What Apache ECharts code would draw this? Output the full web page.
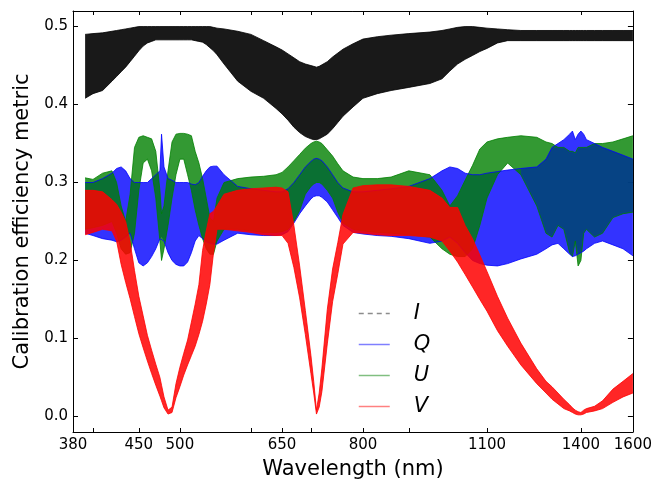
<!DOCTYPE html>
<html><head><meta charset="utf-8">
<script src="https://cdn.jsdelivr.net/npm/echarts@6/dist/echarts.min.js"></script>
<style>html,body{margin:0;padding:0;background:#fff}#c{width:655px;height:485px}</style>
</head><body><div id="c"></div>
<script>
const wavelength = [392,400,410,420,425,430,435,440,445,450,455,460,465,470,475,477,480,485,490,495,500,505,510,515,520,525,530,535,540,545,550,560,580,600,620,640,650,660,670,680,690,700,705,710,715,720,730,740,750,760,780,800,830,860,900,950,980,1000,1020,1040,1060,1080,1100,1130,1160,1200,1250,1280,1300,1320,1340,1360,1370,1380,1390,1400,1410,1420,1450,1480,1520,1560,1600];

const I_lo = [.408,.414,.418,.430,.436,.442,.448,.455,.462,.469,
 .475,.479,.481,.483,.483,.483,.483,.483,.483,.483,
 .483,.483,.483,.483,.482,.481,.480,.477,.473,.469,
 .464,.452,.430,.417,.408,.395,.388,.380,.371,.364,
 .359,.356,.355,.355,.356,.358,.362,.369,.377,.385,
 .397,.408,.414,.418,.422,.427,.433,.443,.452,.458,
 .463,.468,.472,.479,.482,.482,.482,.482,.482,.482,
 .482,.482,.482,.482,.482,.482,.482,.482,.482,.482,
 .482,.482,.482];
const I_hi = [.490,.491,.492,.494,.495,.496,.497,.498,.499,.500,
 .500,.500,.500,.500,.500,.500,.500,.500,.500,.500,
 .500,.500,.500,.500,.500,.500,.500,.500,.500,.499,
 .498,.497,.494,.490,.482,.474,.470,.465,.460,.455,
 .452,.450,.449,.448,.449,.451,.455,.461,.466,.471,
 .478,.484,.487,.489,.491,.493,.495,.497,.499,.500,
 .500,.499,.498,.497,.496,.495,.495,.495,.495,.495,
 .495,.495,.495,.495,.495,.495,.495,.495,.495,.495,
 .495,.495,.495];

const Q_lo = [.235,.232,.228,.226,.224,.226,.230,.235,.215,.197,
 .193,.197,.205,.215,.228,.230,.225,.210,.200,.195,
 .193,.193,.198,.210,.225,.232,.228,.224,.222,.221,
 .221,.226,.235,.233,.232,.232,.233,.237,.248,.260,
 .270,.279,.282,.283,.283,.281,.275,.265,.255,.245,
 .236,.234,.232,.231,.228,.222,.225,.230,.222,.210,
 .200,.196,.194,.193,.196,.202,.208,.215,.220,.222,
 .215,.208,.205,.206,.208,.210,.212,.215,.222,.225,
 .220,.215,.206];
const Q_hi = [.300,.300,.305,.312,.318,.320,.315,.305,.300,.300,
 .300,.300,.305,.310,.315,.362,.320,.305,.303,.300,
 .300,.300,.300,.298,.297,.300,.308,.315,.320,.321,
 .321,.310,.295,.292,.290,.288,.288,.292,.300,.310,
 .320,.327,.330,.331,.330,.328,.320,.310,.300,.293,
 .288,.288,.290,.292,.295,.305,.315,.320,.318,.312,
 .310,.310,.312,.314,.316,.318,.320,.330,.345,.350,
 .355,.362,.366,.355,.362,.366,.362,.355,.350,.345,
 .340,.335,.330];

const U_lo = [.240,.242,.245,.250,.235,.215,.208,.210,.235,.290,
 .325,.330,.315,.280,.225,.200,.215,.245,.280,.310,
 .330,.330,.310,.290,.265,.245,.228,.215,.208,.208,
 .225,.240,.240,.238,.236,.236,.237,.240,.250,.264,
 .285,.295,.298,.300,.300,.298,.290,.280,.262,.248,
 .240,.238,.236,.235,.233,.230,.215,.208,.205,.205,
 .215,.245,.280,.310,.325,.310,.270,.235,.230,.245,
 .240,.210,.205,.225,.193,.200,.235,.240,.230,.235,
 .255,.260,.262];
const U_hi = [.306,.304,.312,.315,.300,.270,.250,.285,.345,.358,
 .360,.358,.356,.340,.290,.260,.270,.315,.352,.362,
 .363,.363,.362,.360,.340,.325,.305,.280,.255,.250,
 .280,.300,.305,.307,.308,.310,.313,.320,.328,.336,
 .344,.350,.352,.353,.352,.350,.342,.334,.324,.315,
 .307,.305,.305,.307,.315,.310,.290,.270,.283,.303,
 .322,.343,.352,.356,.358,.360,.358,.352,.350,.345,
 .345,.340,.340,.338,.345,.345,.345,.345,.350,.350,
 .352,.356,.360];

const V_lo = [.233,.236,.240,.238,.225,.195,.172,.151,.128,.106,
 .088,.071,.055,.040,.026,.020,.011,.003,.005,.024,
 .038,.053,.066,.078,.090,.105,.122,.144,.169,.209,
 .240,.240,.238,.236,.233,.232,.232,.222,.191,.152,
 .105,.055,.030,.003,.012,.032,.093,.147,.183,.221,
 .236,.235,.233,.232,.232,.230,.225,.212,.198,.182,
 .166,.150,.135,.110,.090,.066,.042,.030,.022,.016,
 .010,.007,.005,.003,.002,.002,.003,.005,.007,.010,
 .018,.025,.030];
const V_hi = [.290,.290,.288,.278,.272,.262,.250,.224,.187,.154,
 .129,.104,.085,.067,.050,.040,.025,.008,.012,.042,
 .063,.081,.098,.121,.144,.169,.213,.238,.260,.263,
 .270,.285,.290,.292,.293,.294,.293,.288,.245,.193,
 .136,.078,.045,.008,.030,.062,.137,.189,.223,.259,
 .293,.296,.297,.297,.295,.290,.280,.268,.268,.245,
 .228,.207,.186,.154,.126,.094,.061,.045,.038,.030,
 .022,.015,.011,.008,.006,.005,.008,.010,.013,.020,
 .035,.045,.055];

const xTickValues = [400,450,500,600,650,700,800,900,1100,1400];
const xLabelValues = [380,450,500,650,800,1100,1400,1600];
const yTickValues = [0,0.1,0.2,0.3,0.4,0.5];
const legendNames = ['I','Q','U','V'];

const FONT = 'DejaVu Sans';
const chart = echarts.init(document.getElementById('c'), null, {renderer:'canvas'});

function pairs(arr){ return wavelength.map((w,i)=>[w,arr[i]]); }
function band(name, lo, hi, color, opacity, z, from, to){
  from = from || 0; to = (to === undefined) ? wavelength.length - 1 : to;
  return {
    type:'custom', name: name, coordinateSystem:'cartesian2d', silent:true, z:z,
    data:[[wavelength[from], hi[from]]], clip:true, animation:false,
    renderItem:function(params, api){
      const pts=[];
      for(let i=from;i<=to;i++) pts.push(api.coord([wavelength[i], hi[i]]));
      for(let i=to;i>=from;i--) pts.push(api.coord([wavelength[i], lo[i]]));
      return {type:'polygon', shape:{points:pts}, style:{fill:color, opacity:opacity, stroke:null}};
    }
  };
}
function edge(name, arr, color, z, width){
  return {type:'line', name:name, data:pairs(arr), symbol:'none', silent:true, z:z, animation:false,
    lineStyle:{color:color, width:width || 0.8}, itemStyle:{color:color}};
}

// overlap of the Q and U bands (where blue and green lines interleave)
const QU_lo = Q_lo.map((v,i)=>Math.max(v, U_lo[i]));
const QU_hi = Q_hi.map((v,i)=>Math.max(Math.min(v, U_hi[i]), QU_lo[i]));
const splitIdx = wavelength.indexOf(1200);

const series = [
  band('I band', I_lo, I_hi, '#000000', 0.9, 1),
  edge('I', I_lo, '#000000', 2), edge('I', I_hi, '#000000', 2),
  band('Q band', Q_lo, Q_hi, '#0000ff', 0.8, 3),
  band('U band', U_lo, U_hi, '#008000', 0.8, 5),
  band('QU mix', QU_lo, QU_hi, '#0000ff', 0.4, 6, splitIdx),
  edge('U', U_lo, '#008000', 7), edge('U', U_hi, '#008000', 7),
  edge('Q', Q_lo, '#0000ff', 8), edge('Q', Q_hi, '#0000ff', 8),
  band('V band', V_lo, V_hi, '#ff0000', 0.85, 9),
  edge('V', V_lo, '#ff0000', 10), edge('V', V_hi, '#ff0000', 10)
];

const axisLineStyle = {color:'#000', width:1};
function xAx(pos, main){
  return {
    type:'log', logBase:10, min:380, max:1600, position:pos,
    axisLine:{show:true, onZero:false, lineStyle:axisLineStyle},
    axisTick:{show:true, inside:true, length:4, customValues:xTickValues, lineStyle:{color:'#000'}},
    minorTick:{show:false}, splitLine:{show:false}, minorSplitLine:{show:false},
    axisLabel:{show:main, customValues:xLabelValues, formatter:function(v){return String(Math.round(v));},
      fontSize:15, color:'#000', fontFamily:FONT, margin:6},
    name: main ? 'Wavelength (nm)' : '', nameLocation:'middle', nameGap:27,
    nameTextStyle:{fontSize:21, color:'#000', fontFamily:FONT}
  };
}
function yAx(pos, main){
  return {
    type:'value', min:-0.02, max:0.52, position:pos,
    axisLine:{show:true, onZero:false, lineStyle:axisLineStyle},
    axisTick:{show:true, inside:true, length:5, customValues:yTickValues, lineStyle:{color:'#000'}},
    splitLine:{show:false},
    axisLabel:{show:main, customValues:yTickValues, formatter:function(v){return v.toFixed(1);},
      fontSize:15, color:'#000', fontFamily:FONT, margin:5},
    name: main ? 'Calibration efficiency metric' : '', nameLocation:'middle', nameGap:38,
    nameTextStyle:{fontSize:21, color:'#000', fontFamily:FONT}
  };
}

const legendColors = {I:'#8c8c8c', Q:'#7f7fff', U:'#80bf80', V:'#ff8080'};
chart.setOption({
  animation:false,
  backgroundColor:'#fff',
  grid:{left:73, right:22, top:11, bottom:51, containLabel:false},
  xAxis:[xAx('bottom', true), xAx('top', false)],
  yAxis:[yAx('left', true), yAx('right', false)],
  legend:{
    orient:'vertical', left:358, top:303, padding:0, itemWidth:31, itemHeight:14, itemGap:10,
    selectedMode:false,
    data: legendNames.map(n=>({name:n,
      lineStyle:{color:legendColors[n], width:1.5, type: n==='I' ? [5,4] : 'solid'},
      itemStyle:{opacity:0}})),
    textStyle:{fontSize:21, fontStyle:'italic', fontFamily:FONT, color:'#000', padding:[0,0,0,19]}
  },
  series: series
});
</script></body></html>
